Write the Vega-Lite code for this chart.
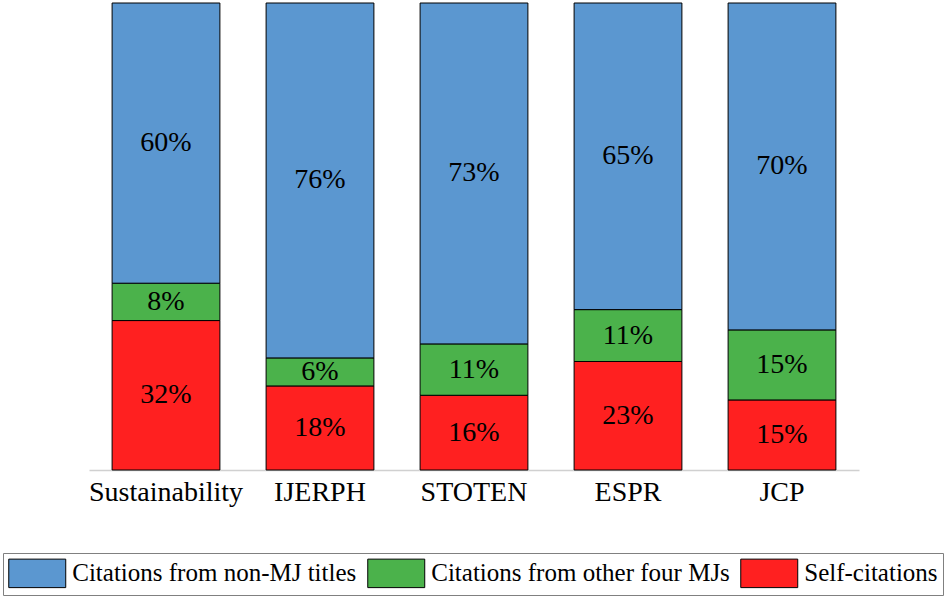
{
  "$schema": "https://vega.github.io/schema/vega-lite/v6.json",
  "autosize": {"type": "none"},
  "width": 770,
  "height": 467,
  "padding": {"left": 89, "top": 3, "right": 91, "bottom": 126},
  "background": "white",
  "config": {"view": {"stroke": null}, "font": "Liberation Serif"},
  "data": {"values": [
    {"journal": "Sustainability", "category": "Self-citations", "order": 1, "value": 32},
    {"journal": "Sustainability", "category": "Citations from other four MJs", "order": 2, "value": 8},
    {"journal": "Sustainability", "category": "Citations from non-MJ titles", "order": 3, "value": 60},
    {"journal": "IJERPH", "category": "Self-citations", "order": 1, "value": 18},
    {"journal": "IJERPH", "category": "Citations from other four MJs", "order": 2, "value": 6},
    {"journal": "IJERPH", "category": "Citations from non-MJ titles", "order": 3, "value": 76},
    {"journal": "STOTEN", "category": "Self-citations", "order": 1, "value": 16},
    {"journal": "STOTEN", "category": "Citations from other four MJs", "order": 2, "value": 11},
    {"journal": "STOTEN", "category": "Citations from non-MJ titles", "order": 3, "value": 73},
    {"journal": "ESPR", "category": "Self-citations", "order": 1, "value": 23},
    {"journal": "ESPR", "category": "Citations from other four MJs", "order": 2, "value": 11},
    {"journal": "ESPR", "category": "Citations from non-MJ titles", "order": 3, "value": 65},
    {"journal": "JCP", "category": "Self-citations", "order": 1, "value": 15},
    {"journal": "JCP", "category": "Citations from other four MJs", "order": 2, "value": 15},
    {"journal": "JCP", "category": "Citations from non-MJ titles", "order": 3, "value": 70}
  ]},
  "transform": [
    {"stack": "value", "groupby": ["journal"], "sort": [{"field": "order", "order": "ascending"}], "as": ["y0", "y1"], "offset": "normalize"},
    {"calculate": "(datum.y0 + datum.y1) / 2", "as": "mid"},
    {"calculate": "datum.value + '%'", "as": "label"}
  ],
  "encoding": {
    "x": {
      "field": "journal", "type": "nominal",
      "sort": ["Sustainability", "IJERPH", "STOTEN", "ESPR", "JCP"],
      "scale": {"paddingInner": 0.3, "paddingOuter": 0.15},
      "axis": {
        "title": null, "labelAngle": 0, "ticks": false,
        "labelFont": "Liberation Serif", "labelFontSize": 28, "labelColor": "black",
        "labelPadding": 8, "domainColor": "#d0d0d0", "domainWidth": 1.5
      }
    }
  },
  "layer": [
    {
      "mark": {"type": "bar", "stroke": "black", "strokeWidth": 1},
      "encoding": {
        "y": {"field": "y0", "type": "quantitative", "scale": {"domain": [0, 1]}, "axis": null},
        "y2": {"field": "y1"},
        "color": {
          "field": "category", "type": "nominal",
          "scale": {
            "domain": ["Citations from non-MJ titles", "Citations from other four MJs", "Self-citations"],
            "range": ["#5B97D0", "#4BB24B", "#FF2020"]
          },
          "legend": {
            "title": null, "orient": "none", "legendX": -86, "legendY": 550,
            "direction": "horizontal",
            "symbolType": "M-2,-1H2V1H-2Z", "symbolSize": 812, "symbolOffset": 14.25,
            "symbolStrokeColor": "black", "symbolStrokeWidth": 1, "symbolOpacity": 1,
            "labelFont": "Liberation Serif", "labelFontSize": 25, "labelColor": "black",
            "labelOffset": 20, "labelLimit": 0, "columnPadding": 8,
            "padding": 5, "strokeColor": "#808080", "fillColor": "white"
          }
        }
      }
    },
    {
      "mark": {"type": "text", "font": "Liberation Serif", "fontSize": 28, "color": "black", "baseline": "middle"},
      "encoding": {
        "y": {"field": "mid", "type": "quantitative", "scale": {"domain": [0, 1]}},
        "text": {"field": "label", "type": "nominal"}
      }
    }
  ]
}
